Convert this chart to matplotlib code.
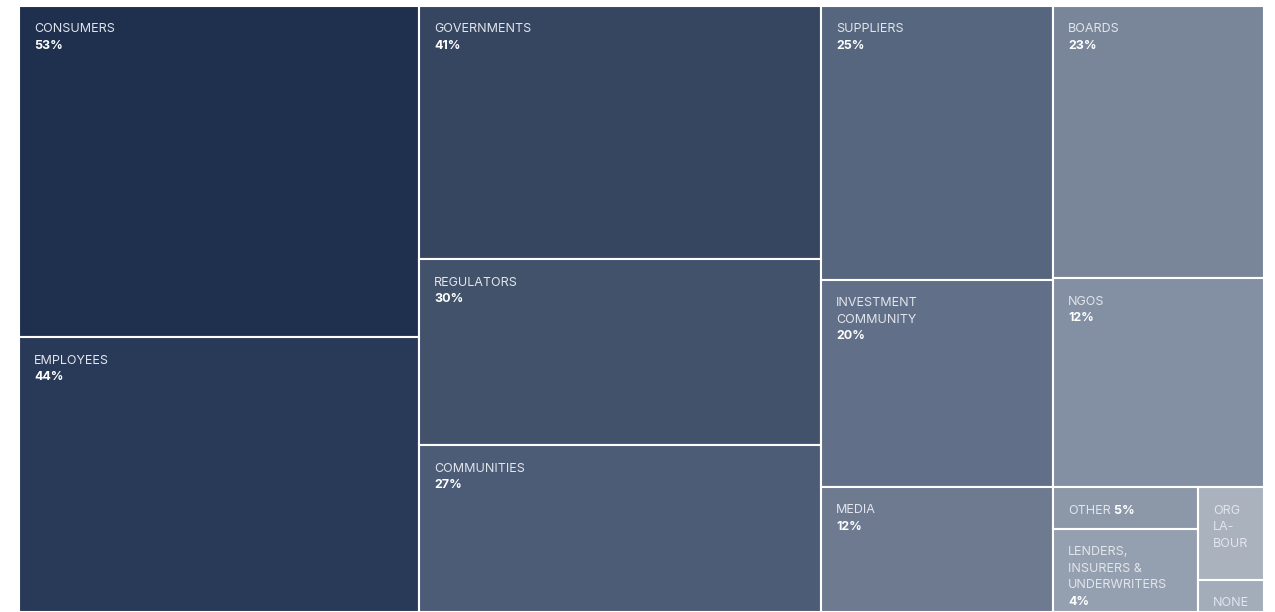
import matplotlib
matplotlib.use("Agg")
import matplotlib.pyplot as plt
from matplotlib.patches import Rectangle

# ---- data ----
names = ["CONSUMERS", "EMPLOYEES", "GOVERNMENTS", "REGULATORS", "COMMUNITIES",
         "SUPPLIERS", "INVESTMENT\nCOMMUNITY", "MEDIA", "BOARDS", "NGOS",
         "OTHER", "LENDERS,\nINSURERS &\nUNDERWRITERS", "ORG\nLA-\nBOUR", "NONE"]
pct_labels = ["53%", "44%", "41%", "30%", "27%", "25%", "20%", "12%", "23%", "12%",
              "5%", "4%", None, None]
# tile areas (relative units)
tile_area = [53.3, 44.2, 40.9, 30, 26.9, 25.5, 19.3, 11.7, 23.1, 17.7,
             2.45, 4.85, 2.45, 0.85]
colors = ["#1f2f4e", "#293a58", "#364661", "#42526b", "#4c5c76",
          "#56667e", "#617088", "#6d7a90", "#798599", "#838fa2",
          "#8c97a8", "#949fb0", "#aab2be", "#a3acb9"]
inline_pct = [10]          # tiles whose percentage sits on the same line
# nesting of the tiles: columns -> rows -> sub-columns -> rows
structure = [[0, 1], [2, 3, 4], [5, 6, 7], [8, 9, [[10, 11], [12, 13]]]]

W, H = 1245, 606
fig = plt.figure(figsize=(12.75, 6.12), dpi=100)
ax = fig.add_axes([19 / 1275, 0, W / 1275, H / 612])
ax.set_xlim(0, W)
ax.set_ylim(H, 0)
ax.axis("off")

rects = {}


def total(node):
    if isinstance(node, int):
        return tile_area[node]
    return sum(total(c) for c in node)


def layout(node, x, y, w, h, depth):
    if isinstance(node, int):
        rects[node] = (x, y, w, h)
        return
    s = total(node)
    for c in node:
        t = total(c)
        if depth % 2 == 0:
            cw = w * t / s
            layout(c, x, y, cw, h, depth + 1)
            x += cw
        else:
            ch = h * t / s
            layout(c, x, y, w, ch, depth + 1)
            y += ch


layout(structure, 0, 0, W, H, 0)

FONT = ["Inter", "DejaVu Sans"]
FS = 9.0
LINE = 16.5
label_color = "#e2e6ec"

for i, (x, y, w, h) in rects.items():
    ax.add_patch(Rectangle((x, y), w, h, facecolor=colors[i], edgecolor="white",
                           linewidth=1.5))
    tx = x + 15
    ty = y + 26.5
    lines = names[i].split("\n")
    last = None
    for k, ln in enumerate(lines):
        last = ax.text(tx, ty + k * LINE, ln, fontsize=FS, family=FONT,
                       fontweight="normal", color=label_color,
                       va="baseline", ha="left")
    if pct_labels[i] is not None:
        if i in inline_pct:
            ax.annotate(" " + pct_labels[i], xy=(1, 0), xycoords=last,
                        va="bottom", ha="left", fontsize=FS, family=FONT,
                        fontweight="bold", color="white")
        else:
            ax.text(tx, ty + len(lines) * LINE, pct_labels[i], fontsize=FS,
                    family=FONT, fontweight="bold", color="white",
                    va="baseline", ha="left")

fig.savefig("out.png", dpi=100, facecolor="white")
